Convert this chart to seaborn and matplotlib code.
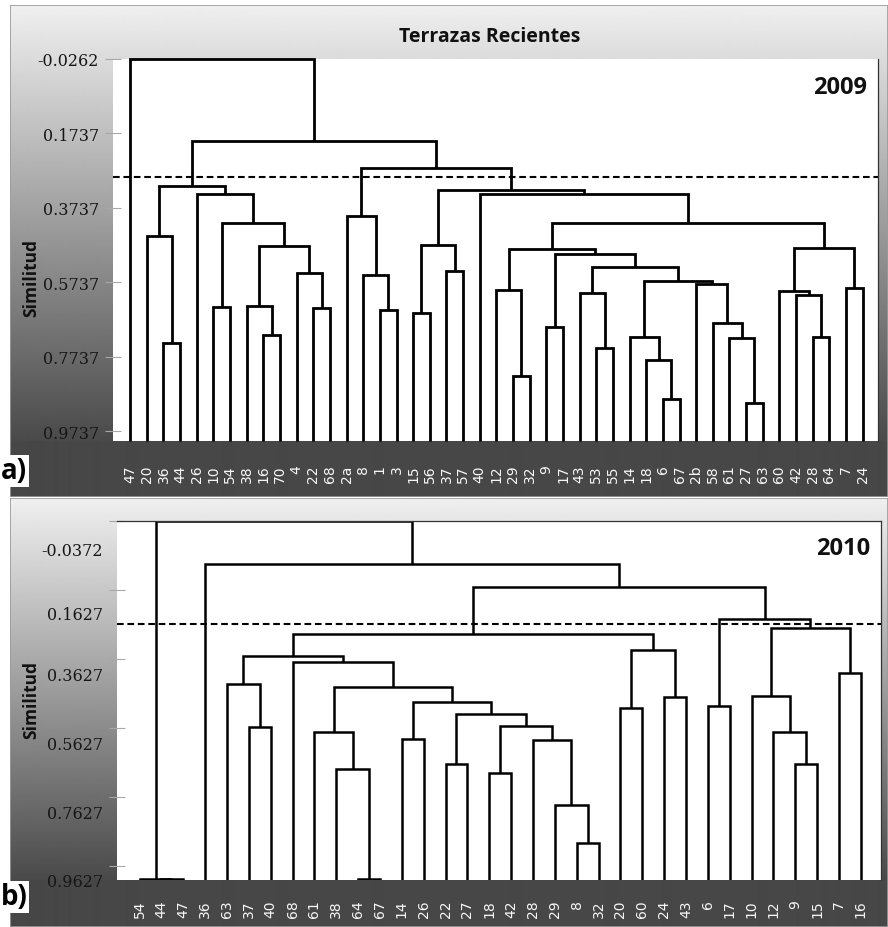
import matplotlib
matplotlib.use("Agg")
import numpy as np
import pandas as pd
import matplotlib.pyplot as plt
from matplotlib.transforms import ScaledTranslation
import seaborn as sns

# ---------------------------------------------------------------- data
title = "Terrazas Recientes"
y_label = "Similitud"
years = ["2009", "2010"]
panel_tags = ["a)", "b)"]

ticks_2009 = [-0.0262, 0.1737, 0.3737, 0.5737, 0.7737, 0.9737]
ticks_2010 = [-0.0372, 0.1627, 0.3627, 0.5627, 0.7627, 0.9627]

cut_2009 = 0.2906
cut_2010 = 0.2622

leaves_2009 = ["47", "20", "36", "44", "26", "10", "54", "38", "16", "70", "4",
               "22", "68", "2a", "8", "1", "3", "15", "56", "37", "57", "40",
               "12", "29", "32", "9", "17", "43", "53", "55", "14", "18", "6",
               "67", "2b", "58", "61", "27", "63", "60", "42", "28", "64", "7",
               "24"]

# (new cluster, left member, right member, similarity of the join)
merges_2009 = [
    ("A1", "36", "44", 0.7362), ("A2", "20", "A1", 0.4490),
    ("A3", "10", "54", 0.6396), ("A4", "16", "70", 0.7147),
    ("A5", "38", "A4", 0.6369), ("A6", "22", "68", 0.6423),
    ("A7", "4", "A6", 0.5483), ("A8", "A5", "A7", 0.4758),
    ("A9", "A3", "A8", 0.4141), ("A10", "26", "A9", 0.3362),
    ("A11", "A2", "A10", 0.3147),
    ("B1", "1", "3", 0.6476), ("B2", "8", "B1", 0.5537),
    ("B3", "2a", "B2", 0.3953), ("B4", "15", "56", 0.6557),
    ("B5", "37", "57", 0.5429), ("B6", "B4", "B5", 0.4731),
    ("C1", "29", "32", 0.8248), ("C2", "12", "C1", 0.5939),
    ("C3", "9", "17", 0.6933), ("C4", "53", "55", 0.7496),
    ("C5", "43", "C4", 0.6020), ("C6", "6", "67", 0.8866),
    ("C7", "18", "C6", 0.7819), ("C8", "14", "C7", 0.7201),
    ("C9", "27", "63", 0.8973), ("C10", "61", "C9", 0.7228),
    ("C11", "58", "C10", 0.6825), ("C12", "2b", "C11", 0.5778),
    ("C13", "C8", "C12", 0.5698), ("C14", "C5", "C13", 0.5322),
    ("C15", "C3", "C14", 0.4973), ("C16", "C2", "C15", 0.4839),
    ("D1", "28", "64", 0.7201), ("D2", "42", "D1", 0.6074),
    ("D3", "60", "D2", 0.5966), ("D4", "7", "24", 0.5886),
    ("D5", "D3", "D4", 0.4812),
    ("E1", "C16", "D5", 0.4141), ("E2", "40", "E1", 0.3362),
    ("E3", "B6", "E2", 0.3255), ("E4", "B3", "E3", 0.2664),
    ("E5", "A11", "E4", 0.1939), ("root", "47", "E5", -0.0262),
]

leaves_2010 = ["54", "44", "47", "36", "63", "37", "40", "68", "61", "38", "64",
               "67", "14", "26", "22", "27", "18", "42", "28", "29", "8", "32",
               "20", "60", "24", "43", "6", "17", "10", "12", "9", "15", "7",
               "16"]

merges_2010 = [
    ("a1", "44", "47", 1.0), ("a2", "54", "a1", 1.0),
    ("b1", "37", "40", 0.5587), ("b2", "63", "b1", 0.4366),
    ("c1", "64", "67", 1.0), ("c2", "38", "c1", 0.6808),
    ("c3", "61", "c2", 0.5733), ("c4", "14", "26", 0.5936),
    ("c5", "22", "27", 0.6663), ("c6", "18", "42", 0.6925),
    ("c7", "8", "32", 0.8959), ("c8", "29", "c7", 0.7855),
    ("c9", "28", "c8", 0.5965), ("c10", "c6", "c9", 0.5558),
    ("c11", "c5", "c10", 0.5209), ("c12", "c4", "c11", 0.4861),
    ("c13", "c3", "c12", 0.4454), ("c14", "68", "c13", 0.3727),
    ("c15", "b2", "c14", 0.3552),
    ("d1", "20", "60", 0.5035), ("d2", "24", "43", 0.4744),
    ("d3", "d1", "d2", 0.3378), ("d4", "c15", "d3", 0.2913),
    ("e1", "6", "17", 0.4977), ("e2", "9", "15", 0.6663),
    ("e3", "12", "e2", 0.5733), ("e4", "10", "e3", 0.4715),
    ("e5", "7", "16", 0.4047), ("e6", "e4", "e5", 0.2738),
    ("e7", "e1", "e6", 0.2477),
    ("f1", "d4", "e7", 0.1547), ("f2", "36", "f1", 0.0878),
    ("root", "a2", "f2", -0.0372),
]

# ---------------------------------------------------------------- style
sns.set_theme(style="white")
plt.rcParams["font.family"] = ["DejaVu Sans"]
plt.rcParams["axes.unicode_minus"] = False
HEAD_FONT = "Open Sans"

W, H = 888, 928
fig = plt.figure(figsize=(W / 100, H / 100), dpi=100)
fig.patch.set_facecolor("white")


def box(x0, y0, x1, y1):
    """pixel box measured from the top-left corner -> figure fraction"""
    return [x0 / W, 1 - y1 / H, (x1 - x0) / W, (y1 - y0) / H]


def link_table(leaves, merges, base):
    pos = {name: (float(i), base) for i, name in enumerate(leaves)}
    rows = []
    for k, (name, left, right, sim) in enumerate(merges):
        xl, yl = pos[left]
        xr, yr = pos[right]
        for x, y in ((xl, yl), (xl, sim), (xr, sim), (xr, yr)):
            rows.append({"link": k, "x": x, "y": y})
        pos[name] = ((xl + xr) / 2.0, sim)
    return pd.DataFrame(rows)


def panel_background(frame, plot_bottom_px):
    x0, y0, x1, y1 = frame
    bg = fig.add_axes(box(*frame), zorder=-5)
    n = y1 - y0
    rows = np.arange(n) + y0
    split = plot_bottom_px
    grad = np.where(rows < split,
                    0.94 - (rows - y0) / (split - y0) * 0.65,
                    0.28)
    bg.imshow(grad[:, None], cmap="gray", vmin=0, vmax=1, aspect="auto",
              extent=(0, 1, 1, 0), interpolation="bilinear")
    bg.set_axis_off()
    border = plt.Rectangle((0, 0), 1, 1, transform=bg.transAxes, fill=False,
                           edgecolor="#9a9a9a", lw=1.2)
    bg.add_patch(border)


panels = [
    dict(frame=(10, 6, 888, 498), plot=(113, 60, 878, 442),
         leaves=leaves_2009, merges=merges_2009, ticks=ticks_2009,
         cut=cut_2009, ybottom=1.0, lw=2.0, xpad=17, clip=False,
         label_drop=[0, 0, 0, 0, 0, 0], spines=("right",),
         year_xy=(867, 88), tag_y=472, ylab_y=278),
    dict(frame=(10, 499, 888, 928), plot=(117, 522, 881, 881),
         leaves=leaves_2010, merges=merges_2010, ticks=ticks_2010,
         cut=cut_2010, ybottom=1.0035, lw=1.8, xpad=14, clip=True,
         label_drop=[28, 23, 15, 15, 15, 14], spines=("right", "top"),
         year_xy=(870, 549), tag_y=898, ylab_y=700),
]

for i, p in enumerate(panels):
    panel_background(p["frame"], p["plot"][3])

    ax = fig.add_axes(box(*p["plot"]))
    ax.set_facecolor("white")

    ytop = p["ticks"][0]
    df = link_table(p["leaves"], p["merges"], p["ybottom"])
    sns.lineplot(data=df, x="x", y="y", units="link", estimator=None,
                 sort=False, color="black", linewidth=p["lw"], ax=ax,
                 legend=False)
    for ln in ax.lines:
        ln.set_clip_on(p["clip"])
        ln.set_solid_joinstyle("miter")
        ln.set_solid_capstyle("butt")

    ax.axhline(p["cut"], color="black", lw=1.5, ls=(0, (3.2, 1.8)))

    n = len(p["leaves"])
    ax.set_xlim(-1.03, n - 1 + 0.92)
    ax.set_ylim(p["ybottom"], ytop)

    ax.set_xticks(range(n))
    ax.set_xticklabels(p["leaves"], rotation=90, color="#f7f7f7",
                       fontsize=10, family="DejaVu Sans")
    ax.tick_params(axis="x", length=0, pad=p["xpad"])

    ax.set_yticks(p["ticks"])
    ax.set_yticklabels([f"{t:.4f}" for t in p["ticks"]], fontsize=11.5,
                       family="DejaVu Serif", color="#161616")
    ax.tick_params(axis="y", direction="inout", length=12, width=0.8,
                   color="#a8a8a8", pad=4, left=True)
    for lab, drop in zip(ax.get_yticklabels(), p["label_drop"]):
        lab.set_transform(lab.get_transform() +
                          ScaledTranslation(0, -drop / 100, fig.dpi_scale_trans))

    ax.set_xlabel("")
    ax.set_ylabel("")
    for side, sp in ax.spines.items():
        if side in p["spines"]:
            sp.set_visible(True)
            sp.set_color("#333333")
            sp.set_linewidth(0.9)
            sp.set_zorder(5)
        else:
            sp.set_visible(False)

    # panel annotations
    yx, yy = p["year_xy"]
    fig.text(yx / W, 1 - yy / H, years[i], ha="right", va="center",
             fontsize=17, fontweight="bold", family=HEAD_FONT,
             color="#111111")
    fig.text(31 / W, 1 - p["ylab_y"] / H, y_label, rotation=90, ha="center",
             va="center", fontsize=12.5, fontweight="bold", family=HEAD_FONT,
             color="#111111")
    fig.text(1 / W, 1 - p["tag_y"] / H, panel_tags[i], ha="left",
             va="center", fontsize=20, fontweight="bold", family=HEAD_FONT,
             color="black",
             bbox=dict(facecolor="white", edgecolor="none", pad=1.0))

fig.text(490 / W, 1 - 37 / H, title, ha="center", va="center", fontsize=14,
         fontweight="bold", family=HEAD_FONT, color="#111111")

fig.savefig("out.png", dpi=100)
